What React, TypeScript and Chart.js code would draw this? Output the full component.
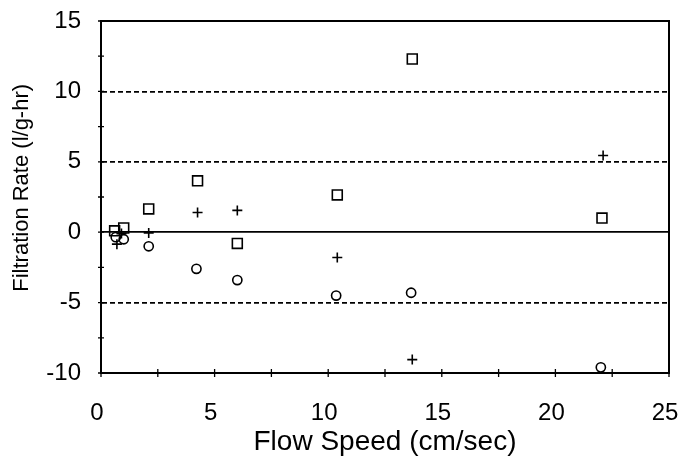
import React, { useEffect, useRef } from "react";
import { Chart, registerables } from "chart.js";

Chart.register(...registerables);

// Flow speed (cm/sec) and filtration rate (l/g-hr) for three series
const squareX = [0.6, 1.0, 2.1, 4.25, 6.0, 10.4, 13.7, 22.05];
const squareY = [0.1, 0.3, 1.65, 3.65, -0.8, 2.65, 12.3, 1.0];
const plusX = [0.7, 0.9, 2.1, 4.25, 6.0, 10.4, 13.7, 22.1];
const plusY = [-0.85, -0.1, -0.05, 1.4, 1.55, -1.8, -9.05, 5.45];
const circleX = [0.65, 1.0, 2.1, 4.2, 6.0, 10.35, 13.65, 22.0];
const circleY = [-0.35, -0.5, -1.0, -2.6, -3.4, -4.5, -4.3, -9.6];

const xTickLabels = ["0", "5", "10", "15", "20", "25"];
const yTickLabels = ["-10", "-5", "0", "5", "10", "15"];
const dashedGridValues = [10, 5, -5];
const solidGridValues = [0];

const xTitle = "Flow Speed (cm/sec)";
const yTitle = "Filtration Rate (l/g-hr)";

const FONT = "'Liberation Sans', Arial, Helvetica, sans-serif";

function toPoints(xs: number[], ys: number[]) {
  return xs.map((x, i) => ({ x, y: ys[i] }));
}

const frameAndTicks = {
  id: "frameAndTicks",
  afterDatasetsDraw(chart: any) {
    const { ctx, chartArea, scales } = chart;
    const xs = scales.x;
    const ys = scales.y;
    ctx.save();
    ctx.strokeStyle = "#000";
    ctx.lineWidth = 2;
    ctx.setLineDash([]);
    // top and right frame
    ctx.beginPath();
    ctx.moveTo(chartArea.left, chartArea.top);
    ctx.lineTo(chartArea.right, chartArea.top);
    ctx.lineTo(chartArea.right, chartArea.bottom);
    ctx.stroke();
    // crossing tick marks
    ctx.lineWidth = 1.3;
    ctx.beginPath();
    ys.ticks.forEach((t: any) => {
      const py = ys.getPixelForValue(t.value);
      ctx.moveTo(chartArea.left - 3, py);
      ctx.lineTo(chartArea.left + 3, py);
    });
    xs.ticks.forEach((t: any) => {
      const px = xs.getPixelForValue(t.value);
      ctx.moveTo(px, chartArea.bottom - 4);
      ctx.lineTo(px, chartArea.bottom + 4);
    });
    ctx.stroke();
    ctx.restore();
  },
};

export default function App() {
  const ref = useRef<HTMLCanvasElement | null>(null);

  useEffect(() => {
    if (!ref.current) return;
    const chart = new Chart(ref.current, {
      type: "scatter",
      data: {
        datasets: [
          {
            label: "squares",
            data: toPoints(squareX, squareY),
            pointStyle: "rect",
            radius: 7,
            borderColor: "#000",
            backgroundColor: "rgba(0,0,0,0)",
            borderWidth: 1.6,
          },
          {
            label: "plus",
            data: toPoints(plusX, plusY),
            pointStyle: "cross",
            radius: 5,
            borderColor: "#000",
            backgroundColor: "rgba(0,0,0,0)",
            borderWidth: 1.6,
          },
          {
            label: "circles",
            data: toPoints(circleX, circleY),
            pointStyle: "circle",
            radius: 4.6,
            borderColor: "#000",
            backgroundColor: "rgba(0,0,0,0)",
            borderWidth: 1.6,
          },
        ],
      },
      options: {
        animation: false,
        responsive: false,
        devicePixelRatio: 1,
        layout: { padding: { left: 0, right: 14, top: 21, bottom: 0 } },
        plugins: {
          legend: { display: false },
          tooltip: { enabled: false },
        },
        scales: {
          x: {
            type: "linear",
            min: 0,
            max: 25,
            afterFit: (s: any) => {
              s.height = 92;
              s.paddingLeft = 0;
              s.paddingRight = 0;
            },
            ticks: {
              stepSize: 2.5,
              autoSkip: false,
              maxRotation: 0,
              padding: 26,
              labelOffset: -4,
              color: "#000",
              font: { family: FONT, size: 24 },
              callback: (v: any) => {
                const s = String(v);
                return xTickLabels.includes(s) ? s : "";
              },
            },
            grid: { display: false, drawTicks: false },
            border: { display: true, color: "#000", width: 2 },
            title: {
              display: true,
              text: xTitle,
              color: "#000",
              font: { family: FONT, size: 28 },
              padding: { top: 0, bottom: 6 },
            },
          },
          y: {
            type: "linear",
            min: -10,
            max: 15,
            afterFit: (s: any) => {
              s.width = 101;
              s.paddingTop = 0;
              s.paddingBottom = 0;
            },
            ticks: {
              stepSize: 2.5,
              autoSkip: false,
              padding: 20,
              color: "#000",
              font: { family: FONT, size: 24 },
              callback: (v: any) => {
                const s = String(v);
                return yTickLabels.includes(s) ? s : "";
              },
            },
            grid: {
              drawTicks: false,
              lineWidth: 1.7,
              color: (c: any) => {
                const v = c.tick ? c.tick.value : NaN;
                if (dashedGridValues.includes(v) || solidGridValues.includes(v)) return "#000";
                return "rgba(0,0,0,0)";
              },
            },
            border: {
              display: true,
              color: "#000",
              width: 2,
              dash: (c: any) => {
                const v = c.tick ? c.tick.value : NaN;
                return dashedGridValues.includes(v) ? [5, 3] : [];
              },
            },
            title: {
              display: true,
              text: "   " + yTitle,
              color: "#000",
              font: { family: FONT, size: 22 },
              padding: { top: 9, bottom: 0 },
            },
          },
        },
      },
      plugins: [frameAndTicks],
    } as any);
    return () => chart.destroy();
  }, []);

  return (
    <div style={{ position: "absolute", left: 0, top: 0, width: 683, height: 465, background: "#fff" }}>
      <canvas ref={ref} width={683} height={465} style={{ display: "block", width: 683, height: 465 }} />
    </div>
  );
}
